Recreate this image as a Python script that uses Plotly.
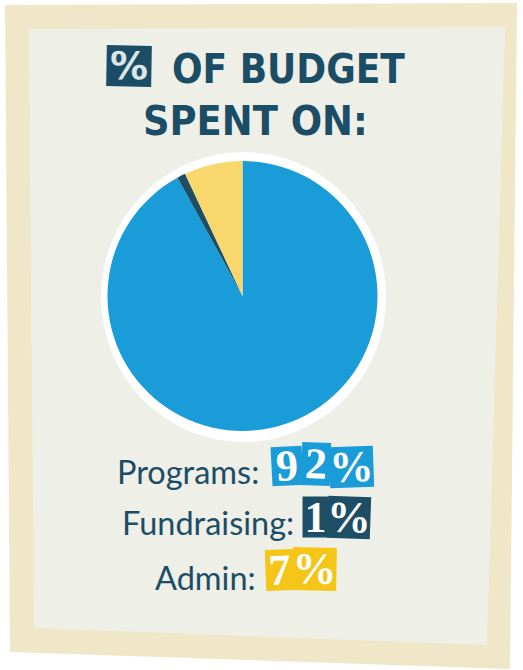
import plotly.graph_objects as go

# ---- data ----
categories = ["Programs", "Fundraising", "Admin"]
values = [92, 1, 7]
pie_colors = ["#1A9CD8", "#1D4E66", "#F8D86D"]
box_colors = ["#1A9CD8", "#1D4E66", "#F5C518"]
title_line1 = "OF BUDGET"
title_line2 = "SPENT ON:"

W, H = 523, 670
DARK = "#1C4D66"
FRAME = "#F0E6C8"
PANEL = "#EEEFE6"


def px(x):
    return x / W


def py(y):
    return 1 - y / H


def poly(pts):
    s = "M " + " L ".join(f"{px(x):.5f},{py(y):.5f}" for x, y in pts) + " Z"
    return s


fig = go.Figure()

cx, cy, r = 242.5, 296, 135
fig.add_trace(go.Pie(
    labels=categories,
    values=values,
    sort=False,
    direction="clockwise",
    rotation=0,
    marker=dict(colors=pie_colors, line=dict(width=0)),
    textinfo="none",
    hoverinfo="label+percent",
    showlegend=False,
    domain=dict(x=[px(cx - r), px(cx + r)], y=[py(cy + r), py(cy - r)]),
))

shapes = [
    dict(type="path", path=poly([(5, 5), (517, 3), (510, 669), (10, 652)]),
         xref="paper", yref="paper", fillcolor=FRAME, line=dict(width=0), layer="below"),
    dict(type="path", path=poly([(29, 29), (505, 27), (487, 645), (34, 628)]),
         xref="paper", yref="paper", fillcolor=PANEL, line=dict(width=0), layer="below"),
    dict(type="circle", xref="paper", yref="paper",
         x0=px(101), x1=px(386), y0=py(442), y1=py(152),
         fillcolor="white", line=dict(width=0), layer="below"),
]

annotations = []

# title "%" box
annotations.append(dict(
    x=px(129), y=py(66), xref="paper", yref="paper", text="%", showarrow=False,
    font=dict(family="DejaVu Sans", size=38, color="#DCE6E6", weight="bold"),
    bgcolor=DARK, width=42, height=38, textangle=1, xanchor="center", yanchor="middle",
))
annotations.append(dict(
    x=px(170), y=py(69), xref="paper", yref="paper", text=title_line1, showarrow=False,
    font=dict(family="DejaVu Sans Condensed", size=40, color=DARK, weight="bold"),
    xanchor="left", yanchor="middle",
))
annotations.append(dict(
    x=px(255), y=py(121), xref="paper", yref="paper", text=title_line2, showarrow=False,
    font=dict(family="DejaVu Sans Condensed", size=41, color=DARK, weight="bold"),
    xanchor="center", yanchor="middle",
))

# labels
label_pos = [(261, 472), (296, 522), (258, 577)]
for cat, (lx, ly) in zip(categories, label_pos):
    annotations.append(dict(
        x=px(lx), y=py(ly), xref="paper", yref="paper", text=f"{cat}:", showarrow=False,
        font=dict(family="Lato", size=32.5, color=DARK),
        xanchor="right", yanchor="middle",
    ))

# ransom-note style percentage boxes: (start x, center y) per row
box_layout = [
    (272, 466, [(30, 38, -3, 0), (28, 42, 2, -2), (43, 40, -2, 1)]),
    (303, 517, [(25, 40, 0, 0), (42, 41, 2, 0)]),
    (266, 570, [(27, 40, -2, 0), (43, 42, 1, -1)]),
]
for v, col, (x0, yc, specs) in zip(values, box_colors, box_layout):
    chars = list(f"{v}%")
    x = x0
    for ch, (w, h, ang, dy) in zip(chars, specs):
        annotations.append(dict(
            x=px(x + w / 2), y=py(yc + dy), xref="paper", yref="paper", text=ch,
            showarrow=False,
            font=dict(family="Liberation Serif", size=44, color="white", weight="bold"),
            bgcolor=col, width=w - 2, height=h - 2, borderpad=1, textangle=ang,
            xanchor="center", yanchor="middle",
        ))
        x += w

fig.update_layout(
    width=W, height=H,
    margin=dict(l=0, r=0, t=0, b=0),
    paper_bgcolor="white",
    plot_bgcolor="white",
    shapes=shapes,
    annotations=annotations,
    showlegend=False,
)

fig.write_html("out.html", config={"displayModeBar": False},
               post_script="document.body.style.margin='0';")
